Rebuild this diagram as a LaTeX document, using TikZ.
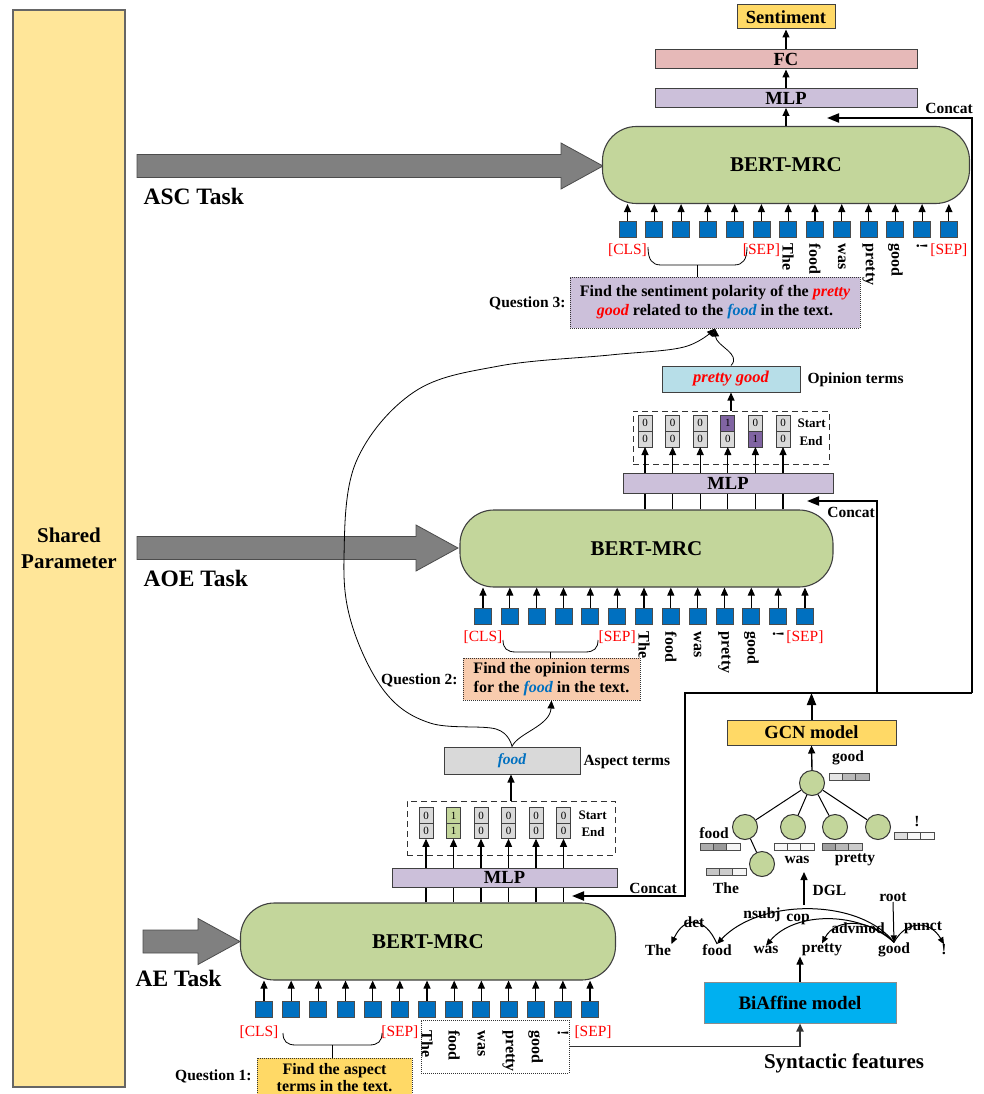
\documentclass[tikz,border=0pt]{standalone}
\usepackage{fontspec}
\setmainfont{Liberation Serif}
\usetikzlibrary{arrows.meta,positioning}

\definecolor{sharedyellow}{HTML}{FFE699}
\definecolor{bertgreen}{HTML}{C3D69B}
\definecolor{tokblue}{HTML}{0070C0}
\definecolor{foodblue}{HTML}{0070C0}
\definecolor{arrowgray}{HTML}{808080}
\definecolor{goldbox}{HTML}{FFD966}
\definecolor{fcpink}{HTML}{E6B9B8}
\definecolor{mlppurple}{HTML}{CCC0DA}
\definecolor{qpeach}{HTML}{F8CBAD}
\definecolor{cellgray}{HTML}{D9D9D9}
\definecolor{cellgreen}{HTML}{C3D69B}
\definecolor{cellpurple}{HTML}{8064A2}
\definecolor{opblue}{HTML}{B7DEE8}
\definecolor{biblue}{HTML}{00B0F0}

\begin{document}
\begin{tikzpicture}[x=1pt,y=-1pt,line width=1.1pt,>={Triangle[length=8pt,width=7pt]}]
        \useasboundingbox (0,0) rectangle (983,1094);
        \tikzstyle{bert}=[draw=black!75,fill=bertgreen,rounded corners=34pt,minimum height=77pt,font=\fontsize{21}{25}\selectfont\bfseries]
        \tikzstyle{tok}=[draw=black!70,fill=tokblue,minimum width=17pt,minimum height=16pt,inner sep=0pt,line width=0.8pt]
        \tikzstyle{tlbl}=[text=red,font=\fontsize{15.5}{17}\selectfont,inner sep=0pt]
        \tikzstyle{word}=[rotate=-90,font=\fontsize{16}{18}\selectfont\bfseries,inner sep=0pt]
        \tikzstyle{blk}=[draw=black!75,line width=1pt,inner sep=0.5pt,font=\fontsize{18.5}{20}\selectfont\bfseries]
        \tikzstyle{qbox}=[draw=black!80,densely dotted,line width=1pt,align=center,font=\fontsize{16}{19}\selectfont\bfseries]
        \tikzstyle{lbl}=[font=\fontsize{15.5}{18}\selectfont\bfseries,inner sep=0pt]
        \tikzstyle{lblsm}=[font=\fontsize{13}{15}\selectfont\bfseries,inner sep=0pt,anchor=west]
        \tikzstyle{taskl}=[font=\fontsize{23.5}{26}\selectfont\bfseries,inner sep=0pt,anchor=west]
        \tikzstyle{cell}=[draw=black!75,fill=cellgray,minimum width=14pt,minimum height=15.5pt,inner sep=0pt,outer sep=0pt,line width=0.7pt,font=\fontsize{11}{11}\selectfont]
        \tikzstyle{spanbox}=[draw=black!80,dash pattern=on 6pt off 4pt,line width=1pt]
        \tikzstyle{brc}=[line width=0.8pt]
        \tikzstyle{curv}=[line width=0.8pt,->]
        \tikzstyle{concat}=[line width=2pt,->,>={Triangle[length=12pt,width=9pt]}]
        \tikzstyle{tnode}=[circle,draw=black!80,fill=bertgreen,minimum size=25pt,inner sep=0pt,line width=1pt]
        \tikzstyle{dep}=[line width=1pt,->,>={Triangle[length=7pt,width=6pt]}]

        % shared block and task arrows
        \node[draw=black!60,fill=sharedyellow,minimum width=112pt,minimum height=1077pt,align=center,font=\fontsize{21}{26}\selectfont\bfseries] (shared) at (69,548.5) {Shared\\Parameter};
        \foreach \xa/\xb/\ym in {137/603/166, 137/458/548, 143/240/941.5}
            \filldraw[fill=arrowgray,draw=black!70,line width=0.8pt] (\xa,{\ym-11.5}) -- ({\xb-42},{\ym-11.5}) -- ({\xb-42},{\ym-23}) -- (\xb,\ym) -- ({\xb-42},{\ym+23}) -- ({\xb-42},{\ym+11.5}) -- (\xa,{\ym+11.5}) -- cycle;
        \node[taskl] (asctask) at (143,196) {ASC Task};
        \node[taskl] (aoetask) at (143,578) {AOE Task};
        \node[taskl] (aetask) at (135,978) {AE Task};

        % ASC task
        \node[bert,minimum width=367pt] (asc) at (786,165) {BERT-MRC};
        \node[blk,fill=mlppurple,minimum width=262pt,minimum height=19pt] (mlp3) at (786,98) {MLP};
        \node[blk,fill=fcpink,minimum width=262pt,minimum height=19pt] (fc) at (786,59.5) {FC};
        \node[blk,fill=goldbox,minimum width=98pt,minimum height=24pt] (sent) at (786,17) {Sentiment};
        \draw[->] (asc) -- (mlp3);
        \draw[->] (mlp3) -- (fc);
        \draw[->] (fc) -- (sent);
        \foreach \i in {0,...,12}{
            \node[tok] (asct\i) at ({627.5+26.78*\i},229) {};
            \draw[->] (asct\i.north) -- (asct\i.north |- asc.south);
        }
        \node[tlbl,below=6pt of asct0] (asccls) {[CLS]};
        \node[tlbl,below=6pt of asct5] (ascsep) {[SEP]};
        \node[tlbl,below=6pt of asct12] (ascend) {[SEP]};
        \foreach \w [count=\i from 6] in {The,food,was,pretty,good,!}
            \node[word,below=6pt of asct\i,anchor=west] (ascw\i) {\w};
        \node[qbox,fill=mlppurple,minimum width=290pt,minimum height=51pt] (q3) at (715,302.5) {Find the sentiment polarity of the \textit{\textcolor{red}{pretty}}\\\textit{\textcolor{red}{good}} related to the \textit{\textcolor{foodblue}{food}} in the text.};
        \node[lbl,anchor=east] (q3l) at (566,303) {Question 3:};

        % AOE task
        \node[bert,minimum width=373pt] (aoe) at (646.5,548.5) {BERT-MRC};
        \foreach \i in {0,...,12}{
            \node[tok] (aoet\i) at ({483+26.83*\i},616) {};
            \draw[->] (aoet\i.north) -- (aoet\i.north |- aoe.south);
        }
        \node[tlbl,below=6pt of aoet0] (aoecls) {[CLS]};
        \node[tlbl,below=6pt of aoet5] (aoesep) {[SEP]};
        \node[tlbl,below=6pt of aoet12] (aoeend) {[SEP]};
        \foreach \w [count=\i from 6] in {The,food,was,pretty,good,!}
            \node[word,below=7pt of aoet\i,anchor=west] (aoew\i) {\w};
        \node[qbox,fill=qpeach,minimum width=177pt,minimum height=42pt] (q2) at (551.5,679) {Find the opinion terms\\for the \textit{\textcolor{foodblue}{food}} in the text.};
        \node[lbl,anchor=east] (q2l) at (458,680) {Question 2:};
        \node[blk,fill=mlppurple,minimum width=210pt,minimum height=20pt] (mlp2) at (728,483) {MLP};
        \node[spanbox,minimum width=196pt,minimum height=53pt] (oebox) at (731,437.5) {};
        \foreach \s/\e/\fs/\fe [count=\i from 0] in {0/0/cellgray/cellgray,0/0/cellgray/cellgray,0/0/cellgray/cellgray,1/0/cellpurple/cellgray,0/1/cellgray/cellpurple,0/0/cellgray/cellgray}{
            \node[cell,fill=\fs,minimum height=16pt] (oes\i) at ({645+27.6*\i},423) {\s};
            \node[cell,fill=\fe,minimum height=16pt,below=0pt of oes\i] (oee\i) {\e};
            \draw (oee\i.south |- aoe.north) -- (oee\i.south |- mlp2.south);
            \draw[->] (oee\i.south |- mlp2.north) -- (oee\i.south);
        }
        \node[lblsm] (oestart) at (797,423) {Start};
        \node[lblsm] (oeend) at (799,441) {End};
        \node[blk,fill=opblue,minimum width=138pt,minimum height=26pt,font=\fontsize{16.5}{18}\selectfont\bfseries] (opb) at (731,379) {\textit{\textcolor{red}{pretty good}}};
        \node[lbl,anchor=west] (opl) at (807,380) {Opinion terms};
        \draw[->] (oebox.north) -- (opb.south);

        % AE task
        \node[bert,minimum width=375pt] (ae) at (428,941.5) {BERT-MRC};
        \node[draw=black!80,densely dotted,line width=1pt,minimum width=148pt,minimum height=53pt] (aewords) at (495,1046.5) {};
        \foreach \i in {0,...,12}{
            \node[tok] (aet\i) at ({264+27.17*\i},1009.5) {};
            \draw[->] (aet\i.north) -- (aet\i.north |- ae.south);
        }
        \node[tlbl,below=7pt of aet0,xshift=-5pt] (aecls) {[CLS]};
        \node[tlbl,below=7pt of aet5] (aesep) {[SEP]};
        \node[tlbl,below=7pt of aet12,xshift=3pt] (aeend) {[SEP]};
        \foreach \w [count=\i from 6] in {The,food,was,pretty,good,!}
            \node[word,below=12pt of aet\i,anchor=west] (aew\i) {\w};
        \node[qbox,fill=goldbox,minimum width=155pt,minimum height=40pt,font=\fontsize{16}{17}\selectfont\bfseries] (q1) at (334.5,1078) {Find the aspect\\terms in the text.};
        \node[lbl,anchor=east] (q1l) at (252,1076) {Question 1:};
        \node[blk,fill=mlppurple,minimum width=225pt,minimum height=19pt] (mlp1) at (504.5,877.5) {MLP};
        \node[spanbox,minimum width=208pt,minimum height=54pt] (aebox) at (511,828) {};
        \foreach \s/\e/\f [count=\i from 0] in {0/0/cellgray,1/1/cellgreen,0/0/cellgray,0/0/cellgray,0/0/cellgray,0/0/cellgray}{
            \node[cell,fill=\f] (aes\i) at ({426+27.5*\i},815.5) {\s};
            \node[cell,fill=\f,below=0pt of aes\i] (aee\i) {\e};
            \draw (aee\i.south |- ae.north) -- (aee\i.south |- mlp1.south);
            \draw[->] (aee\i.south |- mlp1.north) -- (aee\i.south);
        }
        \node[lblsm] (aestart) at (578,815) {Start};
        \node[lblsm] (aeend) at (581,832) {End};
        \node[blk,fill=cellgray,minimum width=136pt,minimum height=27pt,font=\fontsize{15.5}{18}\selectfont\bfseries] (asp) at (512,760.5) {\textit{\textcolor{foodblue}{food}}};
        \node[lbl,anchor=west] (aspl) at (583,762) {Aspect terms};
        \draw[->] (aebox.north) -- (aebox.north |- asp.south);

        % question braces
        \foreach \xa/\xb/\yt/\d/\nm in {648/747/247/18/b3, 503/598/640/12/b2, 283/382/1033/12/b1}{
            \draw[brc] (\xa,\yt) .. controls (\xa,{\yt+0.7*\d}) and ({\xa+4},{\yt+\d}) .. ({\xa+13},{\yt+\d}) -- ({\xb-13},{\yt+\d}) .. controls ({\xb-4},{\yt+\d}) and (\xb,{\yt+0.7*\d}) .. (\xb,\yt);
            \coordinate (\nm) at ({(\xa+\xb)/2},{\yt+\d});
        }
        \draw[brc] (b3) -- (b3 |- q3.north);
        \draw[brc] (b2) -- (b2 |- q2.north);
        \draw[brc] (b1) -- (b1 |- q1.north);

        % terms passed on to the next questions
        \draw[curv] plot[smooth,tension=0.6] coordinates {(asp.north) (496,729) (430,723) (385,692) (352,625) (344,557) (356,462) (414,392) (499,366) (610,355) (684,347) (q3.south)};
        \draw[curv] (asp.north) .. controls (518,733) and (550,726) .. (q2.south);
        \draw[curv] (opb.north) .. controls (742,354) and (716,346) .. (q3.south);

        % syntactic branch
        \node[blk,fill=biblue,draw=black!45,minimum width=192pt,minimum height=41pt,font=\fontsize{19}{21}\selectfont\bfseries] (biaff) at (800,1002.5) {BiAffine model};
        \node[font=\fontsize{21}{24}\selectfont\bfseries] (syn) at (844,1063) {Syntactic features};
        \draw[line width=1.8pt,black!80,->] (aewords.east) -- (aewords.east -| biaff.south) -- (biaff.south);
        \foreach \w/\x [count=\i] in {The/658,food/717,was/766,pretty/822,good/894,!/944}
            \node[lbl] (dw\i) at (\x,950) {\w};
        \draw[->] (biaff.north) -- (biaff.north |- dw4.south);
        \draw[dep] (dw2.north) .. controls (705,916) and (684,916) .. (dw1.north east);
        \draw[dep] (dw5.north) .. controls (860,898) and (760,898) .. (dw2.north);
        \draw[dep] (dw5.north) .. controls (860,911) and (795,911) .. (dw3.north);
        \draw[dep] (dw5.north) .. controls (872,919) and (836,917) .. (dw4.north);
        \draw[dep] (dw5.north) .. controls (906,920) and (930,920) .. (dw6.north);
        \node[lbl] (ldet) at (694,922) {det};
        \node[lbl] (lnsubj) at (762,915) {nsubj};
        \node[lbl] (lcop) at (798,919) {cop};
        \node[lbl] (ladvmod) at (858,928) {advmod};
        \node[lbl] (lpunct) at (923,928) {punct};
        \node[lbl] (lroot) at (893,897) {root};
        \draw[dep] (lroot.south) -- (dw5.north);

        % dependency graph and GCN
        \coordinate (dglb) at (804,905);
        \coordinate (dglt) at (804,872);
        \draw[->,line width=1.4pt] (dglb) -- (dglt);
        \node[lbl,anchor=west] (dgl) at (812,890) {DGL};
        \node[tnode] (tgood) at (812,783) {};
        \node[tnode] (tfood) at (745,827) {};
        \node[tnode] (twas) at (793,827) {};
        \node[tnode] (tpretty) at (835,827) {};
        \node[tnode] (texcl) at (878,827) {};
        \node[tnode] (tthe) at (762,864) {};
        \draw[line width=1pt] (tgood) -- (tfood);
        \draw[line width=1pt] (tgood) -- (twas);
        \draw[line width=1pt] (tgood) -- (tpretty);
        \draw[line width=1pt] (tgood) -- (texcl);
        \draw[line width=1pt] (tfood) -- (tthe);
        \foreach \bx/\by/\ca/\cb/\cc in {829/773/gray!20/gray!55/gray!60, 700/843/gray!65/gray!80/gray!8, 774/843/gray!5/gray!5/gray!5, 822/843/gray!75/gray!55/gray!40, 894/832/gray!25/gray!5/gray!5, 706/868/gray!45/gray!40/gray!8}
            \foreach \c [count=\k from 0] in {\ca,\cb,\cc}
                \filldraw[fill=\c,draw=black!70,line width=0.8pt] ({\bx+13.3*\k},\by) rectangle ++(13.3,7);
        \node[lbl] (tlgood) at (848,758) {good};
        \node[lbl] (tlfood) at (714,833) {food};
        \node[lbl] (tlwas) at (797,860) {was};
        \node[lbl] (tlpretty) at (855,860) {pretty};
        \node[lbl] (tlexcl) at (917,822) {!};
        \node[lbl] (tlthe) at (726,888) {The};
        \node[blk,fill=goldbox,minimum width=169pt,minimum height=25pt] (gcn) at (811.5,732.5) {GCN model};
        \draw[->,line width=1.4pt] (tgood.north) -- (gcn.south);

        % concat lines
        \coordinate (j1) at (972,693);
        \coordinate (j2) at (877,693);
        \coordinate (j3) at (685,693);
        \coordinate (c3) at (827,118);
        \coordinate (c2) at (807,501);
        \coordinate (c1) at (572,896);
        \draw[concat] (gcn.north) -- (gcn.north |- j1);
        \draw[concat] (j1) -- (j1 |- c3) -- (c3);
        \draw[concat] (j2) -- (j2 |- c2) -- (c2);
        \draw[concat] (j1) -- (j3) -- (j3 |- c1) -- (c1);
        \node[lbl] (cc3) at (949,108) {Concat};
        \node[lbl] (cc2) at (851,512) {Concat};
        \node[lbl] (cc1) at (653,888) {Concat};
    \end{tikzpicture}
\end{document}
